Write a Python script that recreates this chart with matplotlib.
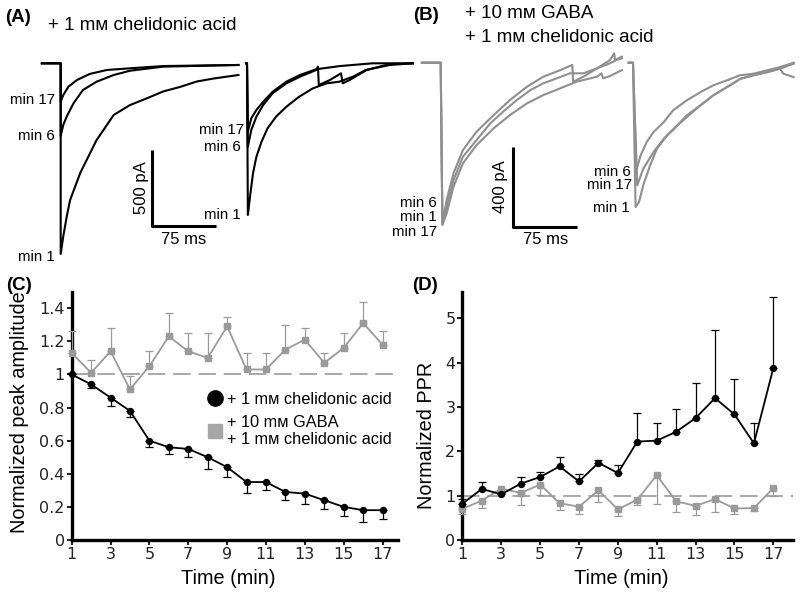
import matplotlib.pyplot as plt
import numpy as np
from matplotlib.lines import Line2D

plt.rcParams['font.family'] = ['Liberation Sans', 'DejaVu Sans']

MM = 'm\u1D0D'
GRAY = '#9a9a9a'
TRACE_GRAY = '#8f8f8f'

# ---- (C) normalized peak amplitude, (D) normalized PPR
minutes = np.arange(1, 18)
amp_cha = [1.00, 0.94, 0.86, 0.78, 0.60, 0.56, 0.55, 0.50, 0.44, 0.35, 0.35, 0.29, 0.28, 0.24, 0.20, 0.18, 0.18]
amp_cha_err = [0.0, 0.02, 0.05, 0.04, 0.04, 0.04, 0.05, 0.07, 0.06, 0.065, 0.05, 0.05, 0.065, 0.055, 0.055, 0.07, 0.055]
amp_gaba = [1.13, 1.01, 1.14, 0.91, 1.05, 1.23, 1.14, 1.10, 1.29, 1.03, 1.03, 1.15, 1.21, 1.07, 1.16, 1.31, 1.18]
amp_gaba_err = [0.13, 0.08, 0.14, 0.08, 0.09, 0.14, 0.11, 0.15, 0.06, 0.10, 0.10, 0.15, 0.07, 0.06, 0.09, 0.13, 0.08]
ppr_cha = [0.82, 1.15, 1.03, 1.27, 1.42, 1.66, 1.32, 1.74, 1.51, 2.22, 2.24, 2.44, 2.75, 3.20, 2.83, 2.18, 3.88]
ppr_cha_err = [0.10, 0.16, 0.04, 0.15, 0.11, 0.22, 0.16, 0.07, 0.19, 0.64, 0.39, 0.52, 0.78, 1.54, 0.81, 0.45, 1.60]
ppr_gaba = [0.70, 0.89, 1.16, 1.06, 1.25, 0.83, 0.75, 1.12, 0.69, 0.91, 1.46, 0.87, 0.77, 0.92, 0.71, 0.72, 1.17]
ppr_gaba_err = [0.12, 0.17, 0.03, 0.27, 0.23, 0.16, 0.17, 0.27, 0.15, 0.13, 0.64, 0.25, 0.20, 0.29, 0.12, 0.07, 0.17]

# ---- (A) traces, chelidonic acid (ms from stimulus, pA)
a1_min1_t = [0, 3, 7, 11, 23, 42, 62, 81, 101, 120, 140, 159, 179, 208]
a1_min1_i = [-1255, -1140, -1010, -900, -720, -505, -340, -275, -230, -185, -155, -120, -100, -77]
a1_min6_t = [0, 3, 7, 15, 26, 42, 62, 81, 120, 208]
a1_min6_i = [-478, -406, -351, -263, -176, -121, -77, -49, -22, -11]
a1_min17_t = [0, 3, 9, 19, 34, 54, 81, 120, 208]
a1_min17_i = [-253, -209, -154, -110, -70, -44, -33, -18, -11]
a2_min1_t = [1, 4, 7, 11, 17, 24, 34, 46, 61, 77, 93, 108, 124, 139, 167, 194]
a2_min1_i = [-998, -855, -724, -615, -516, -428, -351, -286, -220, -165, -132, -121, -88, -44, -11, 0]
a2_min6_t = [1, 5, 11, 19, 30, 46, 62, 81, 83, 84, 97, 110, 112, 120, 140, 167, 194]
a2_min6_i = [-549, -439, -351, -274, -197, -132, -88, -44, -22, -143, -110, -66, -132, -110, -44, -5, 0]
a2_min17_t = [1, 5, 11, 19, 30, 46, 62, 81, 109, 147, 194]
a2_min17_i = [-450, -362, -307, -253, -187, -121, -77, -39, -18, 0, 0]

# ---- (B) traces, GABA + chelidonic acid
b1_min6_t = [2, 7, 15, 26, 42, 62, 81, 101, 120, 140, 154, 155, 167, 183, 198, 203, 204, 212]
b1_min6_i = [-803, -687, -553, -437, -345, -262, -187, -120, -70, -37, -11, -95, -70, -28, 13, 47, 13, 30]
b1_min1_t = [2, 7, 15, 26, 42, 58, 73, 89, 105, 120, 136, 151, 167, 183, 198, 206, 212]
b1_min1_i = [-803, -720, -587, -470, -387, -303, -245, -187, -137, -103, -78, -53, -53, -28, -3, 14, 22]
b1_min17_t = [2, 7, 15, 26, 42, 62, 81, 101, 120, 140, 159, 183, 188, 190, 198, 212]
b1_min17_i = [-812, -753, -620, -503, -412, -328, -262, -203, -162, -128, -95, -70, -53, -78, -67, -37]
b2_min6_t = [4, 9, 16, 24, 36, 47, 63, 79, 94, 110, 125, 141, 157, 172, 188]
b2_min6_i = [-538, -463, -397, -347, -297, -238, -188, -147, -113, -88, -63, -55, -38, -22, 0]
b2_min17_t = [5, 12, 24, 36, 52, 63, 79, 94, 110, 126, 141, 157, 172, 188]
b2_min17_i = [-613, -530, -447, -380, -313, -263, -213, -163, -122, -80, -63, -47, -30, -5]
b2_min1_t = [3, 7, 12, 20, 28, 40, 52, 63, 79, 94, 110, 126, 141, 157, 172, 176, 188]
b2_min1_i = [-722, -697, -613, -513, -430, -363, -313, -272, -213, -163, -122, -80, -63, -47, -30, -55, -72]

fig = plt.figure(figsize=(8, 5.96), dpi=100)


def sweep(ax, t, i, offset, pre, color, labels=None):
    # baseline -> stimulus drop -> decay
    tt = np.concatenate([[offset - pre, offset], np.array(t) + offset])
    ii = np.concatenate([[0, 0], i])
    ax.plot(tt, ii, color=color, lw=1.5, solid_joinstyle='round')
    if labels:
        txt, dx, dy = labels
        ax.annotate(txt, xy=(offset + t[0], i[0]), xytext=(dx, dy), textcoords='offset points',
                    ha='right', va='center', fontsize=10.8)


def scalebar(ax, x0, y0, dt, di, lab_i, lab_t, dx_lab, dy_lab):
    ax.plot([x0, x0, x0 + dt], [y0 + di, y0, y0], color='black', lw=2.2, solid_capstyle='butt')
    ax.annotate(lab_i, xy=(x0, y0 + di / 2), xytext=(dx_lab, 0), textcoords='offset points',
                rotation=90, ha='center', va='center', fontsize=12)
    ax.annotate(lab_t, xy=(x0 + dt / 2, y0), xytext=(0, dy_lab), textcoords='offset points',
                ha='center', va='center', fontsize=12)


# ---- panel A
axA = fig.add_axes([0.05, 0.5554, 0.475, 0.3607])
axA.set_xlim(-24.2, 420.4)
axA.set_ylim(-1327, 87.5)
axA.axis('off')
sweep(axA, a1_min1_t, a1_min1_i, 0, 22, 'black', ('min 1', -4, -2))
sweep(axA, a1_min6_t, a1_min6_i, 0, 22, 'black', ('min 6', -4, 0))
sweep(axA, a1_min17_t, a1_min17_i, 0, 22, 'black', ('min 17', -4, 1))
sweep(axA, a2_min1_t, a2_min1_i, 218, 1, 'black', ('min 1', -5, 0))
sweep(axA, a2_min6_t, a2_min6_i, 218, 1, 'black', ('min 6', -5, 0))
sweep(axA, a2_min17_t, a2_min17_i, 218, 1, 'black', ('min 17', -3, 1))
scalebar(axA, 106.5, -1070, 75, 500, '500 pA', '75 ms', -7.7, -10)

# ---- panel B
axB = fig.add_axes([0.5, 0.5554, 0.5, 0.3607])
axB.set_xlim(-47.6, 420.4)
axB.set_ylim(-1011.5, 63.5)
axB.axis('off')
sweep(axB, b1_min17_t, b1_min17_i, 0, 22, TRACE_GRAY, ('min 17', -4, -5))
sweep(axB, b1_min1_t, b1_min1_i, 0, 22, TRACE_GRAY, ('min 1', -4, 4.3))
sweep(axB, b1_min6_t, b1_min6_i, 0, 22, TRACE_GRAY, ('min 6', -4, 14.4))
sweep(axB, b2_min1_t, b2_min1_i, 225, 5, TRACE_GRAY, ('min 1', -4, -1))
sweep(axB, b2_min17_t, b2_min17_i, 225, 5, TRACE_GRAY, ('min 17', -4, 0))
sweep(axB, b2_min6_t, b2_min6_i, 225, 5, TRACE_GRAY, ('min 6', -4, -1))
scalebar(axB, 85, -820, 75, 400, '400 pA', '75 ms', -9.6, -9)

# ---- panel titles
fig.text(5 / 800, 1 - 17 / 596, '(A)', fontsize=13.5, fontweight='bold', va='center')
fig.text(48 / 800, 1 - 25 / 596, '+ 1 ' + MM + ' chelidonic acid', fontsize=13.6, va='center')
fig.text(413 / 800, 1 - 16 / 596, '(B)', fontsize=13.5, fontweight='bold', va='center')
fig.text(465 / 800, 1 - 14 / 596, '+ 10 ' + MM + ' GABA', fontsize=13.6, va='center')
fig.text(465 / 800, 1 - 37 / 596, '+ 1 ' + MM + ' chelidonic acid', fontsize=13.6, va='center')
fig.text(6 / 800, 1 - 285 / 596, '(C)', fontsize=13.5, fontweight='bold', va='center')
fig.text(412 / 800, 1 - 286 / 596, '(D)', fontsize=13.5, fontweight='bold', va='center')


def style(ax):
    for s in ['top', 'right']:
        ax.spines[s].set_visible(False)
    for s in ['left', 'bottom']:
        ax.spines[s].set_linewidth(2.4)
    ax.tick_params(direction='out', length=3.5, width=1.5, pad=1.5, labelsize=11.5,
                   labelfontfamily='DejaVu Sans', colors='#222222')
    ax.set_xticks(range(1, 18, 2))
    ax.set_xlabel('Time (min)', fontsize=14.3)
    ax.axhline(1, color='#a8a8a8', lw=1.4, dashes=(9, 4), zorder=0)


# ---- panel C
axC = fig.add_axes([0.0896, 0.094, 0.408, 0.4166])
axC.set_xlim(1, 17.8)
axC.set_ylim(0, 1.5)
style(axC)
axC.set_yticks([0, 0.2, 0.4, 0.6, 0.8, 1, 1.2, 1.4])
axC.set_yticklabels(['0', '0.2', '0.4', '0.6', '0.8', '1', '1.2', '1.4'])
axC.set_ylabel('Normalized peak amplitude', fontsize=14.3)
axC.errorbar(minutes, amp_gaba, yerr=[np.zeros(17), amp_gaba_err], color=GRAY, marker='s', ms=4.8,
             lw=1.3, elinewidth=0.9, capsize=2.6, capthick=0.9, clip_on=False, zorder=3)
axC.errorbar(minutes, amp_cha, yerr=[amp_cha_err, np.zeros(17)], color='black', marker='o', ms=4.3,
             lw=1.3, elinewidth=0.9, capsize=2.6, capthick=0.9, clip_on=False, zorder=4)
axC.xaxis.set_label_coords(0.48, -0.115)
axC.yaxis.set_label_coords(-0.13, 0.515)
handles = [Line2D([], [], marker='o', color='black', ms=11, ls='none'),
           Line2D([], [], marker='s', color='#a6a6a6', ms=10, ls='none')]
axC.legend(handles, ['+ 1 ' + MM + ' chelidonic acid', '+ 10 ' + MM + ' GABA\n+ 1 ' + MM + ' chelidonic acid'],
           loc='upper left', bbox_to_anchor=(0.39, 0.63), frameon=False, fontsize=11.8,
           handlelength=1.0, handletextpad=0.2, labelspacing=0.5, borderpad=0)

# ---- panel D
axD = fig.add_axes([0.578, 0.094, 0.413, 0.4166])
axD.set_xlim(1, 18)
axD.set_ylim(0, 5.6)
style(axD)
axD.set_yticks([0, 1, 2, 3, 4, 5])
axD.set_ylabel('Normalized PPR', fontsize=14.3)
axD.errorbar(minutes, ppr_gaba, yerr=[ppr_gaba_err, np.zeros(17)], color=GRAY, marker='s', ms=4.8,
             lw=1.3, elinewidth=0.9, capsize=2.6, capthick=0.9, clip_on=False, zorder=3)
axD.errorbar(minutes, ppr_cha, yerr=[np.zeros(17), ppr_cha_err], color='black', marker='o', ms=4.3,
             lw=1.3, elinewidth=0.9, capsize=2.6, capthick=0.9, clip_on=False, zorder=4)
axD.xaxis.set_label_coords(0.482, -0.115)
axD.yaxis.set_label_coords(-0.08, 0.42)

fig.savefig('out.png', dpi=100)
